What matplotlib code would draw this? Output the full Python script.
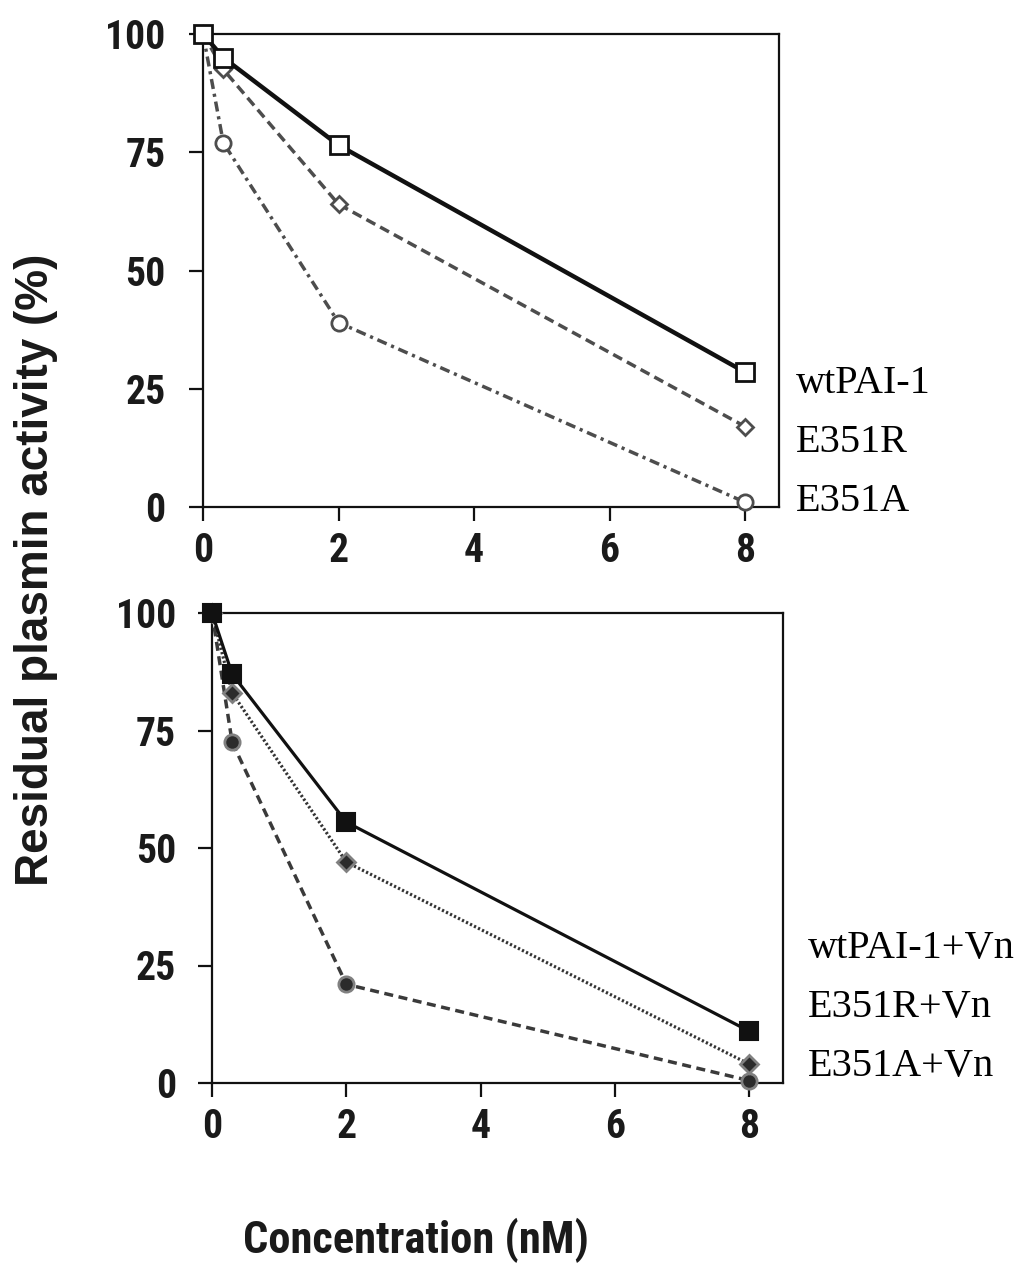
import matplotlib
matplotlib.use("Agg")
import matplotlib.pyplot as plt
from matplotlib import font_manager

# ---------------- data ----------------
conc = [0, 0.3, 2, 8]
x_ticks = [0, 2, 4, 6, 8]
y_ticks = [0, 25, 50, 75, 100]

wt = [100, 95, 76.5, 28.5]
e351r = [100, 92.5, 64, 17]
e351a = [100, 77, 39, 1]

wt_vn = [100, 87, 55.5, 11]
e351r_vn = [100, 83, 47, 4]
e351a_vn = [100, 72.5, 21, 0.5]

top_labels = ["wtPAI-1", "E351R", "E351A"]
bot_labels = ["wtPAI-1+Vn", "E351R+Vn", "E351A+Vn"]

# ---------------- fonts ----------------
names = {f.name for f in font_manager.fontManager.ttflist}
prefs = ["Liberation Sans Narrow", "Nimbus Sans Narrow", "Arial Narrow",
         "Roboto Condensed", "PT Sans Narrow", "IBM Plex Sans Condensed",
         "Fira Sans Condensed", "Barlow Semi Condensed"]
SANS_NAME = next((p for p in prefs if p in names), "Liberation Sans")
SANS = [SANS_NAME, "DejaVu Sans"]
ARIAL = ["Liberation Sans", "DejaVu Sans"]
SERIF = ["Liberation Serif", "DejaVu Serif"]

W, H = 1028, 1265
fig = plt.figure(figsize=(W / 100, H / 100), dpi=100)
fig.patch.set_facecolor("white")


def frac_box(l, t, r, b):
    return [l / W, 1 - b / H, (r - l) / W, (b - t) / H]


ax1 = fig.add_axes(frac_box(203, 34, 779, 507))
ax2 = fig.add_axes(frac_box(212, 613, 783, 1083))

tick_fs = 28.5


def style(ax, ypad):
    ax.set_xlim(0, 8.5)
    ax.set_ylim(0, 100)
    ax.set_xticks(x_ticks)
    ax.set_yticks(y_ticks)
    ax.set_xticklabels([str(v) for v in x_ticks])
    ax.set_yticklabels([str(v) for v in y_ticks])
    for s in ax.spines.values():
        s.set_linewidth(1.6)
        s.set_color("#111111")
    ax.tick_params(axis="both", direction="out", length=10, width=1.6, color="#111111")
    ax.tick_params(axis="y", pad=ypad)
    ax.tick_params(axis="x", pad=8)
    for lab in ax.get_xticklabels() + ax.get_yticklabels():
        lab.set_fontfamily(SANS)
        lab.set_fontweight("bold")
        lab.set_fontsize(tick_fs)
        lab.set_color("#1a1a1a")


style(ax1, 17)
style(ax2, 16)

# ---------------- top panel ----------------
ax1.plot(conc, e351a, color="#4d4d4d", lw=2.5, dashes=(2.9, 1.4, 0.9, 1.4),
         marker="o", ms=11, mfc="white", mec="#4d4d4d", mew=2, clip_on=False, zorder=3)
ax1.plot(conc, e351r, color="#4d4d4d", lw=2.5, dashes=(2.9, 1.6),
         marker="D", ms=8, mfc="white", mec="#4d4d4d", mew=2, clip_on=False, zorder=4)
ax1.plot(conc, wt, color="#111111", lw=3.2, ls="-",
         marker="s", ms=13, mfc="white", mec="#111111", mew=2, clip_on=False, zorder=5)

# ---------------- bottom panel ----------------
ax2.plot(conc, e351a_vn, color="#3a3a3a", lw=2.5, dashes=(2.6, 1.6),
         marker="o", ms=11, mfc="#2b2b2b", mec="#808080", mew=2, clip_on=False, zorder=3)
ax2.plot(conc, e351r_vn, color="#333333", lw=2.3, dashes=(0.7, 0.7),
         marker="D", ms=9, mfc="#2b2b2b", mec="#808080", mew=2, clip_on=False, zorder=4)
ax2.plot(conc, wt_vn, color="#111111", lw=2.3, ls="-",
         marker="s", ms=12.5, mfc="#111111", mec="#111111", mew=1.5, clip_on=False, zorder=5)

# ---------------- labels ----------------
fig.text(36 / W, 1 - 570 / H, "Residual plasmin activity (%)", rotation=90,
         ha="center", va="center", fontfamily=ARIAL, fontweight="bold",
         fontsize=33, color="#1a1a1a")
fig.text(416 / W, 1 - 1240 / H, "Concentration (nM)", ha="center", va="center",
         fontfamily=SANS, fontweight="bold", fontsize=32, color="#1a1a1a")

top_base = [393, 452, 511]
for lab, yb in zip(top_labels, top_base):
    fig.text(796 / W, 1 - yb / H, lab, ha="left", va="baseline",
             fontfamily=SERIF, fontsize=29, color="black")

bot_base = [958, 1017, 1076]
for lab, yb in zip(bot_labels, bot_base):
    fig.text(808 / W, 1 - yb / H, lab, ha="left", va="baseline",
             fontfamily=SERIF, fontsize=29, color="black")

fig.savefig("out.png", dpi=100, facecolor="white")
